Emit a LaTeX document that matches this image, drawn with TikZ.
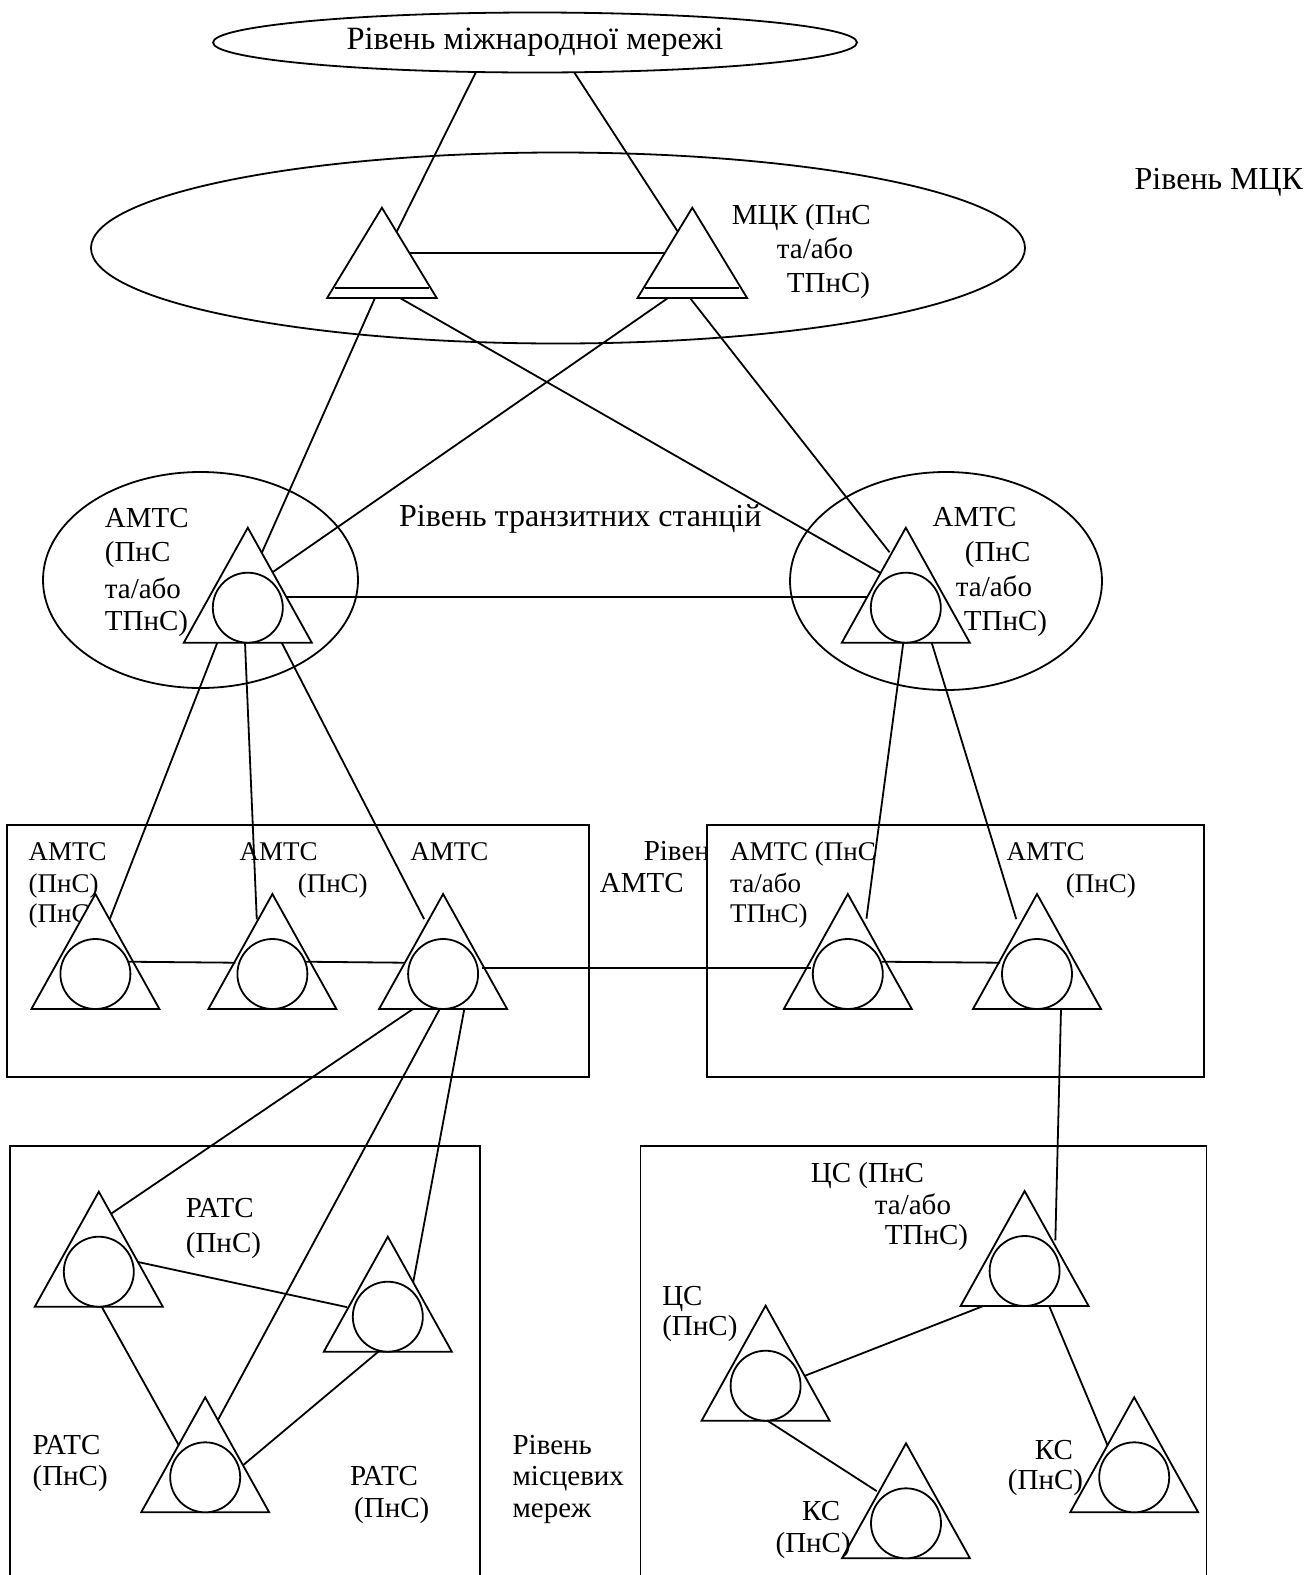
\documentclass[tikz,border=0pt]{standalone}
\usepackage{fontspec}
\setmainfont{Liberation Serif}
\usetikzlibrary{shapes.geometric,calc}
\begin{document}
\begin{tikzpicture}[x=1pt,y=-1pt, line width=1.8pt,
  txt/.style={anchor=base west, inner sep=0pt, font=\fontsize{27}{32}\selectfont},
  txtb/.style={txt, font=\fontsize{29}{34}\selectfont},
  txtc/.style={txt, font=\fontsize{32}{38}\selectfont},
  link/.style={shorten <=-2pt, shorten >=-2pt},
  lvl/.style={ellipse, draw, inner sep=0pt},
  stn/.pic={\draw[fill=white] (-64,0) -- (0,-115) -- (64,0) -- cycle;
            \node[circle, draw, fill=white, minimum size=70pt, inner sep=0pt] (-c) at (0,-35) {};},
  mck/.pic={\draw[fill=white] (-54.8,0) -- (0,-90.3) -- (54.8,0) -- cycle;
            \draw (-47,-10.3) -- (47,-10.3);}]
\useasboundingbox (0,0) rectangle (1306,1575);
% station base centres
\coordinate (IN) at (535,42.5);
\coordinate (M1) at (381.9,298);   \coordinate (M2) at (692.3,298);
\coordinate (LA) at (247.8,642.7); \coordinate (RA) at (905.8,642.7);
\coordinate (T1) at (95.4,1009);   \coordinate (T2) at (272.4,1009);
\coordinate (T3) at (443.1,1009);  \coordinate (T4) at (847.8,1009);
\coordinate (T5) at (1037,1009);
\coordinate (R1) at (98.8,1306.7); \coordinate (R2) at (387.8,1351.7);
\coordinate (R3) at (205.2,1512.3);
\coordinate (C1) at (1024.6,1306); \coordinate (C2) at (765.6,1420.7);
\coordinate (K1) at (906,1558.3);  \coordinate (K2) at (1134.2,1512.3);
% partly hidden texts
\node[txt] (h1) at (27.7,922.3) {(ПнС)};
\node[txtb] (h2) at (642.9,860.7) {Рівень};
% boxes
\draw (6.7,825) rectangle (589.3,1076.7);
\draw[fill=white] (707.3,825) rectangle (1204,1076.7);
\draw (10,1580) -- (10,1145.7) -- (480,1145.7) -- (480,1580);
\draw (640.4,1580) -- (640.4,1145.7) -- (1206.5,1145.7) -- (1206.5,1580);
% level ellipses
\node[lvl, minimum width=934pt, minimum height=191pt] (mckl) at (558,248) {};
\node[lvl, minimum width=315pt, minimum height=216pt] (trl) at (200.5,580) {};
\node[lvl, minimum width=312pt, minimum height=218pt] (trr) at (946,581) {};
% connectors under the stations
\draw[link] ($(IN)+(-59,29.5)$) -- ($(M1)+(14.8,-66.3)$);
\draw[link] ($(IN)+(39,29.5)$) -- ($(M2)+(-15.6,-68)$);
\draw[link] ($(M1)+(29.8,-45.3)$) -- ($(M2)+(-27.3,-45.3)$);
\draw[link] ($(M1)+(-6.9,0)$) -- ($(LA)+(14.5,-91)$);
\draw[link] ($(M1)+(18.1,0)$) -- ($(RA)+(-27.5,-71)$);
\draw[link] ($(M2)+(-24.3,0)$) -- ($(LA)+(25.5,-71)$);
\draw[link] ($(M2)+(-2.3,0)$) -- ($(RA)+(-17.5,-92)$);
\draw[link] ($(LA)+(38.9,-46)$) -- ($(RA)+(-39.1,-46)$);
\draw[link] ($(LA)+(-30.5,0)$) -- ($(T1)+(15.3,-92.3)$);
\draw[link] ($(LA)+(-2.8,0)$) -- ($(T2)+(-15.7,-91.7)$);
\draw[link] ($(LA)+(33.9,0)$) -- ($(T3)+(-19.9,-91.7)$);
\draw[link] ($(RA)+(-2.5,0)$) -- ($(T4)+(18.9,-92.3)$);
\draw[link] ($(RA)+(25.9,0)$) -- ($(T5)+(-21.3,-91.7)$);
\draw[link] ($(T3)+(-30.1,0)$) -- ($(R1)+(12.9,-93.4)$);
\draw[link] ($(T3)+(-3.4,0)$) -- ($(R3)+(13.1,-93)$);
\draw[link] ($(T3)+(21.2,0)$) -- ($(R2)+(25.5,-70)$);
\draw[link] ($(T5)+(24,0)$) -- ($(C1)+(30.8,-67.7)$);
\draw[link] ($(R1)+(37.9,-45)$) -- ($(R2)+(-42.8,-45)$);
\draw[link] ($(R1)+(2.9,0)$) -- ($(R3)+(-27.5,-69)$);
\draw[link] ($(R2)+(-9.5,0)$) -- ($(R3)+(38.1,-47.3)$);
\draw[link] ($(C1)+(-41.3,0)$) -- ($(C2)+(41.2,-45.7)$);
\draw[link] ($(C1)+(24.6,0)$) -- ($(K2)+(-27.5,-69)$);
\draw[link] ($(C2)+(1.9,0)$) -- ($(K1)+(-31,-68.3)$);
% international level
\node[lvl, fill=white, minimum width=644pt, minimum height=60pt,
      font=\fontsize{32.5}{38}\selectfont] (intl) at (IN) {Рівень міжнародної мережі};
% stations
\pic (M1) at (M1) {mck};
\pic (M2) at (M2) {mck};
\foreach \s in {LA,RA,T1,T2,T3,T4,T5,R1,R2,R3,C1,C2,K1,K2} {\pic (\s) at (\s) {stn};}
% connectors on top
\draw (T1-c.20) -- ($(T2)+(-37.1,-46.3)$);
\draw (T2-c.20) -- ($(T3)+(-39.1,-46.3)$);
\draw ($(T3)+(38.9,-40.7)$) -- ($(T4)+(-37.1,-40.7)$);
\draw (T4-c.20) -- ($(T5)+(-37,-46.3)$);
% texts
\node[txtb] (a1) at (731,224) {МЦК (ПнС};
\node[txtb] (a2) at (776,258) {та/або};
\node[txtb] (a3) at (786,292) {ТПнС)};
\node[txtc, anchor=base east] (a4) at (1304,189) {Рівень МЦК};
\node[txtc] (a5) at (398.3,526) {Рівень транзитних станцій};
\node[txtb] (b1) at (104,527.7) {АМТС};
\node[txtb] (b2) at (104,561.7) {(ПнС};
\node[txtb] (b3) at (104,598) {та/або};
\node[txtb] (b4) at (104,630) {ТПнС)};
\node[txtb] (b5) at (931.7,526.7) {АМТС};
\node[txtb] (b6) at (964,561) {(ПнС};
\node[txtb] (b7) at (955,596.7) {та/або};
\node[txtb] (b8) at (963,630) {ТПнС)};
\node[txt] (c1) at (27.7,860.7) {АМТС};
\node[txt] (c2) at (27.7,892.3) {(ПнС)};
\node[txt] (c3) at (238.8,860.7) {АМТС};
\node[txt] (c4) at (296.9,892.3) {(ПнС)};
\node[txt] (c5) at (409.4,860.7) {АМТС};
\node[txtb] (c6) at (599,892.3) {АМТС};
\node[txt] (d1) at (729.3,860.7) {АМТС (ПнС};
\node[txt] (d2) at (729.3,892.3) {та/або};
\node[txt] (d3) at (729.3,922.3) {ТПнС)};
\node[txt] (d4) at (1005.7,860.7) {АМТС};
\node[txt] (d5) at (1065,892.3) {(ПнС)};
\node[txtb] (e1) at (185,1217.3) {РАТС};
\node[txtb] (e2) at (185,1252.3) {(ПнС)};
\node[txtb] (e3) at (31.7,1454) {РАТС};
\node[txtb] (e4) at (31.7,1485.7) {(ПнС)};
\node[txtb] (e5) at (349.3,1485.7) {РАТС};
\node[txtb] (e6) at (353.3,1517.3) {(ПнС)};
\node[txtb] (e7) at (511.7,1454) {Рівень};
\node[txtb] (e8) at (511.7,1485.7) {місцевих};
\node[txtb] (e9) at (511.7,1517.3) {мереж};
\node[txtb] (f1) at (810,1182.3) {ЦС (ПнС};
\node[txtb] (f2) at (874,1214) {та/або};
\node[txtb] (f3) at (884,1244) {ТПнС)};
\node[txtb] (f4) at (661.4,1305.7) {ЦС};
\node[txtb] (f5) at (661.4,1335.7) {(ПнС)};
\node[txtb] (f6) at (1034,1459) {КС};
\node[txtb] (f7) at (1007,1489) {(ПнС)};
\node[txtb] (f8) at (801.3,1520.7) {КС};
\node[txtb] (f9) at (774.7,1552.3) {(ПнС)};
\end{tikzpicture}
\end{document}
